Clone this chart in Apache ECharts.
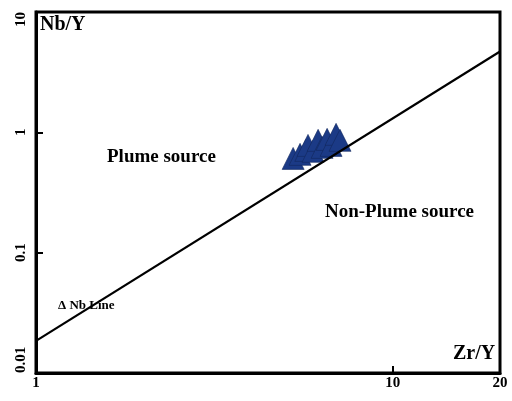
<!DOCTYPE html>
<html>
<head>
<meta charset="utf-8">
<script src="https://cdn.jsdelivr.net/npm/echarts@6/dist/echarts.min.js"></script>
<style>
html,body{margin:0;padding:0;background:#fff;}
#Chart{width:512px;height:401px;}
</style>
</head>
<body>
<div id="Chart"></div>
<script>
// 样品数据 Zr/Y - Nb/Y
var zrY=[5.26,5.50,5.71,5.79,5.98,6.18,6.34,6.55,6.72,6.94,7.12]
var nbY=[0.607,0.656,0.708,0.779,0.695,0.858,0.750,0.874,0.779,0.962,0.858]
// ΔNb 分界线端点
var lineX=[1,20]
var lineY=[0.0185,4.7]
var xTicks=[1,10,20]
var yTicks=[0.01,0.1,1,10]

var serif='"Liberation Serif","DejaVu Serif",serif'

function drawChar(){
    var myChart=echarts.init(document.getElementById('Chart'))
    var pts=[],linePts=[]
    for(var i=0;i<zrY.length;i++){
        pts.push([zrY[i],nbY[i]])
    }
    for(var j=0;j<lineX.length;j++){
        linePts.push([lineX[j],lineY[j]])
    }
    var option={
        animation:false,
        backgroundColor:'#fff',
        grid:{
            left:36,right:12,top:12,bottom:28,
            show:true,borderColor:'#000',borderWidth:3,
            containLabel:false
        },
        xAxis:{
            type:'log',logBase:10,min:1,max:20,
            axisLine:{show:true,lineStyle:{color:'#000',width:3}},
            axisTick:{show:true,inside:true,length:7,lineStyle:{color:'#000',width:2},customValues:[10]},
            axisLabel:{
                customValues:xTicks,
                color:'#000',fontFamily:serif,fontWeight:'bold',fontSize:15,margin:3,
                alignMaxLabel:'center',alignMinLabel:'center'
            },
            splitLine:{show:false},
            minorTick:{show:false}
        },
        yAxis:{
            type:'log',logBase:10,min:0.01,max:10,
            axisLine:{show:true,lineStyle:{color:'#000',width:3}},
            axisTick:{show:true,inside:true,length:7,lineStyle:{color:'#000',width:2},customValues:[0.1,1]},
            axisLabel:{
                customValues:yTicks,
                rotate:90,
                color:'#000',fontFamily:serif,fontWeight:'bold',fontSize:15,margin:7,
                alignMinLabel:'left',alignMaxLabel:'right',
                formatter:function(v){return String(v)}
            },
            splitLine:{show:false},
            minorTick:{show:false}
        },
        graphic:[
            {type:'text',left:40,top:15,style:{text:'Nb/Y',fontFamily:serif,fontWeight:'bold',fontSize:20,fill:'#000'}},
            {type:'text',left:453,top:344,style:{text:'Zr/Y',fontFamily:serif,fontWeight:'bold',fontSize:20,fill:'#000'}},
            {type:'text',left:107,top:148,style:{text:'Plume source',fontFamily:serif,fontWeight:'bold',fontSize:19,fill:'#000'}},
            {type:'text',left:325,top:203,style:{text:'Non-Plume source',fontFamily:serif,fontWeight:'bold',fontSize:19,fill:'#000'}},
            {type:'text',left:58,top:299,style:{text:'\u0394 Nb Line',fontFamily:serif,fontWeight:'bold',fontSize:13,fill:'#000'}}
        ],
        series:[
            {
                type:'line',
                data:linePts,
                symbol:'none',
                lineStyle:{color:'#000',width:2.2},
                z:3
            },
            {
                type:'scatter',
                data:pts,
                symbol:'triangle',
                symbolSize:[22,22],
                itemStyle:{color:'#1b3a86',borderColor:'#12295e',borderWidth:0.6,opacity:1},
                z:2
            }
        ]
    }
    myChart.setOption(option)
}
drawChar()
</script>
</body>
</html>
